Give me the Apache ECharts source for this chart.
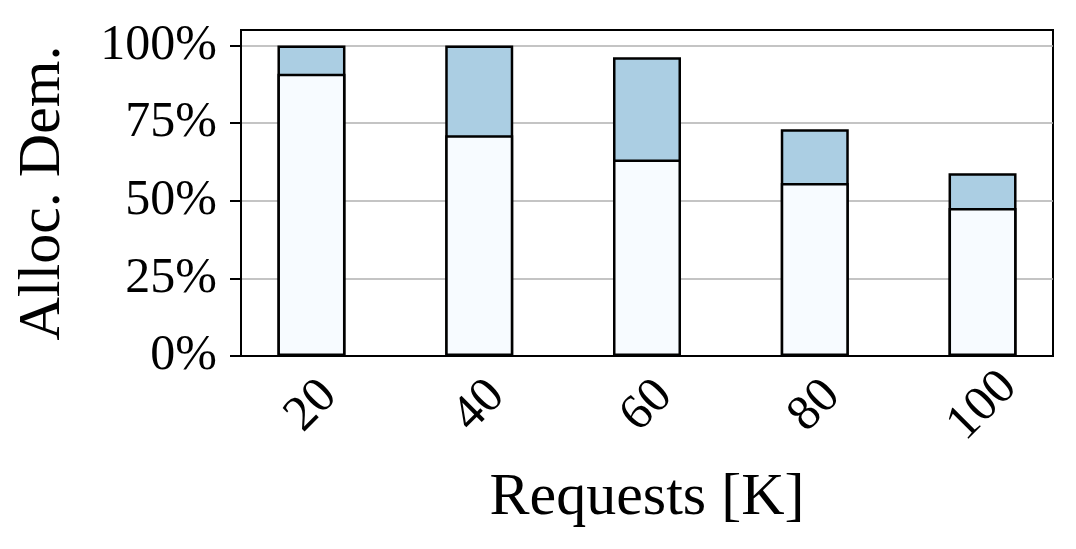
<!DOCTYPE html>
<html>
<head>
<meta charset="utf-8">
<script src="https://cdn.jsdelivr.net/npm/echarts@6/dist/echarts.min.js"></script>
<style>
  html, body { margin: 0; padding: 0; background: #fff; }
  #chart { width: 1076px; height: 549px; }
</style>
</head>
<body>
<div id="chart"></div>
<script>
// request counts on the x axis
var requests = ['20', '40', '60', '80', '100']
// allocated share (lower light segment), in percent
var allocated = [90.9, 71.1, 63.3, 55.7, 47.7]
// total demanded share (top of each bar), in percent
var demanded = [100, 100, 96.2, 73.0, 58.9]
var yTicks = [0, 25, 50, 75, 100]

var font = "'Liberation Serif', 'Times New Roman', serif"

// bars sit at x = 0..4 on a value axis so the frame padding matches the original.
// the full demanded bar is drawn first, the allocated bar is laid over it
var demandedData = demanded.map(function (v, i) { return [i, v] })
var allocatedData = allocated.map(function (v, i) { return [i, v] })

var chart = echarts.init(document.getElementById('chart'))
chart.setOption({
  animation: false,
  grid: {
    left: 241,
    top: 30,
    right: 23,
    bottom: 193,
    show: true,
    borderColor: '#000',
    borderWidth: 2
  },
  xAxis: {
    type: 'value',
    min: -0.42,
    max: 4.42,
    name: 'Requests [K]',
    nameLocation: 'middle',
    nameGap: 112,
    nameTextStyle: { fontFamily: font, fontSize: 60, color: '#000' },
    axisLine: { show: true, onZero: false, lineStyle: { color: '#000', width: 2 } },
    axisTick: { show: false },
    splitLine: { show: false },
    axisLabel: {
      customValues: [0, 1, 2, 3, 4],
      formatter: function (v) { return requests[Math.round(v)] },
      rotate: 45,
      align: 'center',
      verticalAlign: 'middle',
      margin: 50,
      fontFamily: font,
      fontSize: 50,
      color: '#000'
    }
  },
  yAxis: {
    type: 'value',
    min: 0,
    max: 105,
    name: 'Alloc. Dem.',
    nameLocation: 'middle',
    nameRotate: 90,
    nameGap: 168,
    nameTextStyle: { fontFamily: font, fontSize: 60, color: '#000' },
    axisLine: { show: true, onZero: false, lineStyle: { color: '#000', width: 2 } },
    axisTick: {
      show: true,
      customValues: yTicks,
      length: 11,
      lineStyle: { color: '#000', width: 2 }
    },
    splitLine: { show: true, lineStyle: { color: '#b0b0b0', width: 1.5 } },
    axisLabel: {
      customValues: yTicks,
      formatter: '{value}%',
      margin: 24,
      fontFamily: font,
      fontSize: 50,
      color: '#000'
    }
  },
  series: [
    {
      name: 'Demanded',
      type: 'bar',
      barWidth: 68,
      barGap: '-100%',
      itemStyle: { color: '#abcee3', borderColor: '#000', borderWidth: 2.5 },
      data: demandedData
    },
    {
      name: 'Allocated',
      type: 'bar',
      barWidth: 68,
      barGap: '-100%',
      itemStyle: { color: '#f7fbff', borderColor: '#000', borderWidth: 2.5 },
      data: allocatedData
    }
  ]
})
</script>
</body>
</html>
